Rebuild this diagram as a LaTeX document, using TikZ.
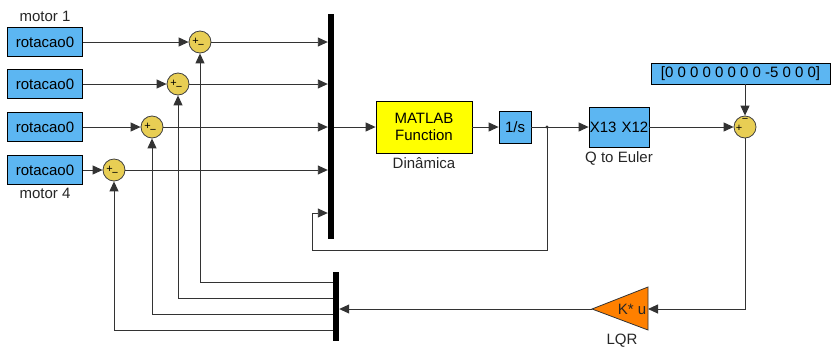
\documentclass[tikz,border=0pt]{standalone}
\usepackage{fontspec}
\setmainfont{Liberation Sans}
\usetikzlibrary{arrows.meta}
\definecolor{blok}{RGB}{92,182,242}
\definecolor{sumfill}{RGB}{232,206,84}
\definecolor{gainfill}{RGB}{255,128,0}
\definecolor{fcnfill}{RGB}{255,255,0}
\tikzset{
  wire/.style={line width=0.9pt, black!80},
  sig/.style={wire, -{Triangle[length=10pt,width=9pt]}},
  block/.style={draw=black, line width=0.8pt, fill=blok, inner sep=0pt, font=\fontsize{15}{17}\selectfont},
  sumnode/.style={circle, draw=black!75, line width=0.8pt, fill=sumfill, minimum size=22pt, inner sep=0pt},
  sgn/.style={inner sep=0pt, font=\fontsize{11}{11}\selectfont},
  bar/.style={fill=black, inner sep=0pt, minimum width=6pt},
  lbl/.style={inner sep=0pt, font=\fontsize{15}{17}\selectfont, text=black!85},
}
\begin{document}
\begin{tikzpicture}[x=1pt,y=-1pt]
  \useasboundingbox (0,0) rectangle (834,349);

  % vstupy - motory
  \foreach \i/\y in {1/42,2/84,3/127,4/170}
    \node[block, minimum width=75pt, minimum height=29pt] (r\i) at (45,\y) {rotacao0};
  \node[lbl] (m1) at (45,16) {motor 1};
  \node[lbl] (m4) at (45,193) {motor 4};

  % sumatory
  \foreach \i/\x/\y in {1/200/42,2/178/84,3/152/127,4/114/170} {
    \node[sumnode] (s\i) at (\x,\y) {};
    \node[sgn] at (\x-4.5,\y-0.5) {+};
    \node[sgn] at (\x+1,\y+4.5) {−};
  }

  % mux a demux
  \node[bar, minimum height=225pt] (mux) at (331,126.5) {};
  \node[bar, minimum height=69pt] (demux) at (336,306.5) {};

  % bloky
  \node[block, fill=fcnfill, minimum width=96pt, minimum height=52pt, align=center] (fcn) at (424,127) {MATLAB\\Function};
  \node[lbl] (fcnl) at (424,163) {Dinâmica};
  \node[block, minimum width=32pt, minimum height=32pt] (integ) at (515,127) {1/s};
  \node[block, minimum width=60pt, minimum height=40pt] (q2e) at (619,127) {X13\,\,X12};
  \node[lbl] (q2el) at (619,158) {Q to Euler};
  \node[block, minimum width=179pt, minimum height=21pt] (const) at (740.5,73.5) {[0 0 0 0 0 0 0 0 -5 0 0 0]};
  \node[sumnode] (sumR) at (745,127) {};
  \node[sgn] at (739,128.5) {+};
  \node[sgn] at (745,120.5) {−};

  % zosilnenie LQR
  \coordinate (gout) at (592,309);
  \coordinate (gin) at (648,309);
  \draw[line width=0.8pt, draw=black!80, fill=gainfill] (gout) -- (648,287) -- (648,330) -- cycle;
  \node[lbl] (gk) at (632,309) {K* u};
  \node[lbl] (gl) at (622,341) {LQR};

  % spoje
  \foreach \i in {1,...,4} {
    \draw[sig] (r\i.east) -- (s\i.west);
    \draw[sig] (s\i.east) -- (s\i.east -| mux.west);
  }
  \draw[sig] (mux.east |- fcn.west) -- (fcn.west);
  \draw[sig] (fcn.east) -- (integ.west);
  \coordinate (br) at (547,127);
  \draw[wire] (integ.east) -- (br);
  \fill[black!80] (br) circle (1.6pt);
  \draw[sig] (br) -- (q2e.west);

  % spatna vazba
  \coordinate (fbl) at (312,250);
  \coordinate (fbin) at (0,213);
  \draw[sig] (br) |- (fbl) |- (fbin -| mux.west);

  \draw[sig] (q2e.east) -- (sumR.west);
  \draw[sig] (sumR |- const.south) -- (sumR.north);
  \draw[sig] (sumR.south) |- (gin);
  \draw[sig] (gout) -- (gout -| demux.east);

  % vystupy demuxu
  \foreach \i/\y in {1/282,2/298,3/314,4/330} {
    \coordinate (d\i) at (0,\y);
    \draw[sig] (demux.west |- d\i) -| (s\i.south);
  }
\end{tikzpicture}
\end{document}
